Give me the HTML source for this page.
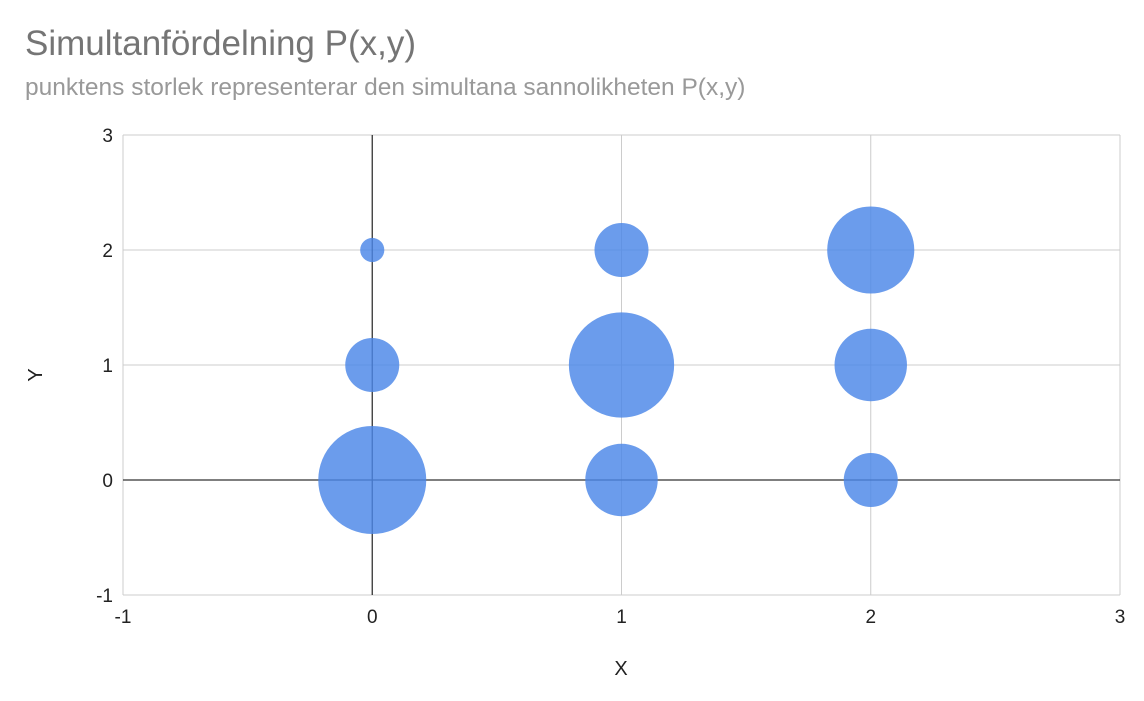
<!DOCTYPE html>
<html><head><meta charset="utf-8"><style>
body{margin:0;background:#fff;font-family:"Liberation Sans",sans-serif}
</style></head><body>
<svg width="1144" height="696" xmlns="http://www.w3.org/2000/svg" font-family="Liberation Sans, sans-serif">
<rect width="1144" height="696" fill="#fff"/>
<text x="25" y="55" font-size="35" fill="#757575">Simultanfördelning P(x,y)</text>
<text x="25" y="95" font-size="24.5" fill="#999">punktens storlek representerar den simultana sannolikheten P(x,y)</text>
<g id="grid"></g>
<g id="axes"></g>
<g id="bubbles"></g>
<g id="ticks"></g>
<text x="621" y="675" font-size="20" text-anchor="middle" fill="#222">X</text>
<text x="0" y="0" font-size="20" text-anchor="middle" fill="#222" transform="translate(42,375) rotate(-90)">Y</text>
</svg>
<script>
const xs=[0,0,0,1,1,1,2,2,2];
const ys=[0,1,2,0,1,2,0,1,2];
const probs=[0.20,0.05,0.01,0.09,0.19,0.05,0.05,0.09,0.13];
const xTicks=[-1,0,1,2,3];
const yTicks=[-1,0,1,2,3];
const NS="http://www.w3.org/2000/svg";
const L=123,R=1120,T=135,B=595;
const sx=v=>L+(v+1)/4*(R-L);
const sy=v=>B-(v+1)/4*(B-T);
const maxP=Math.max(...probs);
const rad=p=>54*Math.sqrt(p/maxP);
function mk(t,a,parent){const e=document.createElementNS(NS,t);for(const k in a)e.setAttribute(k,a[k]);document.getElementById(parent).appendChild(e);return e;}
xTicks.forEach(v=>{
 const g=mk('line',{x1:sx(v),x2:sx(v),y1:T,y2:B,stroke:v===0?'#333':'#ccc','stroke-width':v===0?1.3:1},v===0?'axes':'grid');
 
 
 const t=mk('text',{x:sx(v),y:B+28,'font-size':19,'text-anchor':'middle',fill:'#222'},'ticks');t.textContent=v;
 
 
});
yTicks.forEach(v=>{
 const g=mk('line',{x1:L,x2:R,y1:sy(v),y2:sy(v),stroke:v===0?'#333':'#ccc','stroke-width':v===0?1.3:1},v===0?'axes':'grid');
 
 
 const t=mk('text',{x:L-10,y:sy(v)+7,'font-size':19,'text-anchor':'end',fill:'#222'},'ticks');t.textContent=v;
 
 
});
probs.forEach((p,i)=>{
 const c=mk('circle',{cx:sx(xs[i]),cy:sy(ys[i]),r:rad(p),fill:'#4a86e8','fill-opacity':0.82},'bubbles');
 
 
});
</script>
</body></html>
